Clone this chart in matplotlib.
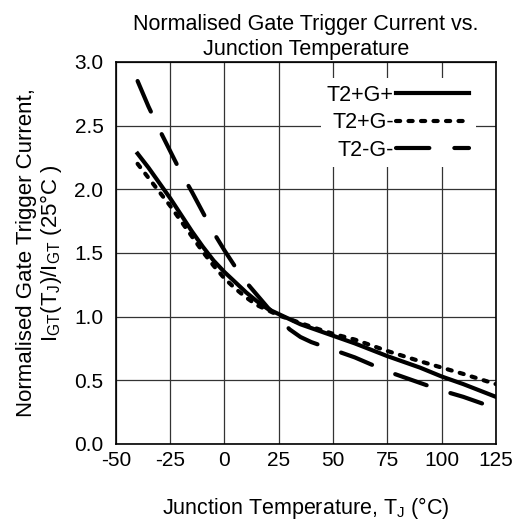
import matplotlib
matplotlib.use("Agg")
import matplotlib.pyplot as plt

plt.rcParams['font.family'] = ['Liberation Sans', 'DejaVu Sans']
plt.rcParams['axes.unicode_minus'] = False

# values
temp = [-40, -35, -30, -25, -20, -15, -10, -5, 0, 5, 10, 15, 20, 25,
        30, 35, 40, 50, 60, 75, 90, 100, 110, 125]
igt_pp = [2.28, 2.17, 2.05, 1.93, 1.80, 1.67, 1.55, 1.44, 1.35, 1.27, 1.19, 1.12,
          1.06, 1.02, 0.98, 0.94, 0.91, 0.85, 0.79, 0.69, 0.60, 0.53, 0.47, 0.37]
igt_pm = [2.20, 2.09, 1.98, 1.87, 1.75, 1.63, 1.51, 1.40, 1.30, 1.22, 1.15, 1.09,
          1.05, 1.01, 0.98, 0.95, 0.92, 0.865, 0.82, 0.73, 0.65, 0.60, 0.55, 0.47]
igt_mm = [2.85, 2.65, 2.47, 2.30, 2.13, 1.98, 1.82, 1.66, 1.52, 1.39, 1.27, 1.17,
          1.07, 0.99, 0.90, 0.84, 0.80, 0.74, 0.68, 0.57, 0.48, 0.42, 0.37, 0.28]
series_labels = ["T2+G+", "T2+G-", "T2-G-"]

x_ticks = [-50, -25, 0, 25, 50, 75, 100, 125]
y_ticks = [0.0, 0.5, 1.0, 1.5, 2.0, 2.5, 3.0]

fig = plt.figure(figsize=(5.15, 5.27), dpi=100)
ax = fig.add_axes([0.225, 0.1575, 0.738, 0.725])

ax.plot(temp, igt_pp, color='black', lw=3, label=series_labels[0])
ax.plot(temp, igt_pm, color='black', lw=3, dashes=(1.0, 2.0),
        dash_capstyle='round', label=series_labels[1])
ax.plot(temp, igt_mm, color='black', lw=3, dashes=(8, 6),
        dash_capstyle='round', label=series_labels[2])

ax.set_xlim(-50, 125)
ax.set_ylim(0, 3.0)
ax.set_xticks(x_ticks)
ax.set_yticks(y_ticks)
ax.set_yticklabels([f"{v:.1f}" for v in y_ticks])
ax.tick_params(length=0, labelsize=15, pad=5)
ax.tick_params(axis='y', pad=9)
ax.grid(True, color='#333333', lw=0.9)
for s in ax.spines.values():
    s.set_linewidth(1.2)

ax.set_title("Normalised Gate Trigger Current vs.\nJunction Temperature",
             fontsize=15.5, pad=5, linespacing=1.25)
ax.set_xlabel("Junction Temperature, T$_\\mathregular{J}$ (°C)", fontsize=15.5, labelpad=18)
ax.set_ylabel("Normalised Gate Trigger Current,\n"
              "I$_\\mathregular{GT}$(T$_\\mathregular{J}$)/I$_\\mathregular{GT}$ (25°C )",
              fontsize=16, labelpad=7, linespacing=1.05)

leg = ax.legend(loc='upper right', bbox_to_anchor=(0.975, 0.985), markerfirst=False,
                fontsize=15.5, handlelength=3.4, handletextpad=0.1,
                labelspacing=0.3, borderpad=0.3, frameon=True, fancybox=False,
                framealpha=1.0, facecolor='white', edgecolor='none')

fig.savefig("out.png", dpi=100)
